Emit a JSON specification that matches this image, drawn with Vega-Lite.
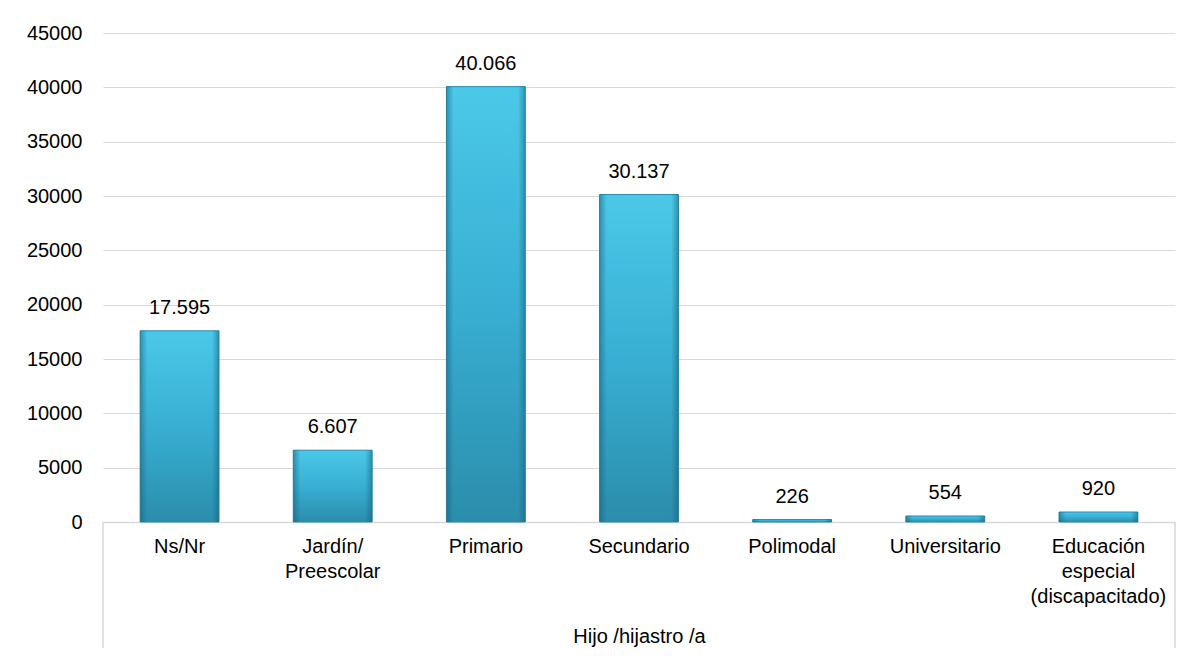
{
  "$schema": "https://vega.github.io/schema/vega-lite/v6.json",
  "width": 1072,
  "height": 489,
  "autosize": {"type": "none"},
  "padding": {"left": 103, "top": 33, "right": 26, "bottom": 137},
  "background": "white",
  "config": {
    "locale": {"number": {"decimal": ",", "thousands": ".", "grouping": [3], "currency": ["$", ""]}},
    "view": {"stroke": null},
    "font": "Liberation Sans",
    "text": {"font": "Liberation Sans"}
  },
  "layer": [
    {
      "data": {
        "values": [
          {"nivel": "Ns/Nr", "valor": 17595},
          {"nivel": "Jardín/\nPreescolar", "valor": 6607},
          {"nivel": "Primario", "valor": 40066},
          {"nivel": "Secundario", "valor": 30137},
          {"nivel": "Polimodal", "valor": 226},
          {"nivel": "Universitario", "valor": 554},
          {"nivel": "Educación\nespecial\n(discapacitado)", "valor": 920}
        ]
      },
      "encoding": {
        "x": {
          "field": "nivel",
          "type": "nominal",
          "sort": null,
          "scale": {"paddingInner": 0.485, "paddingOuter": 0.2425},
          "axis": {
            "title": "Hijo /hijastro /a",
            "titleFont": "Liberation Sans",
            "titleFontSize": 20,
            "titleFontWeight": "normal",
            "titleColor": "#000000",
            "titlePadding": 20,
            "labelExpr": "split(datum.value, '\\n')",
            "labelAngle": 0,
            "labelFont": "Liberation Sans",
            "labelFontSize": 20,
            "labelColor": "#000000",
            "labelPadding": 14,
            "labelBaseline": "top",
            "labelLineHeight": 25,
            "labelLimit": 300,
            "ticks": false,
            "domainColor": "#d9d9d9",
            "domainWidth": 1.5
          }
        },
        "y": {
          "field": "valor",
          "type": "quantitative",
          "scale": {"domain": [0, 45000], "nice": false},
          "axis": {
            "title": null,
            "values": [0, 5000, 10000, 15000, 20000, 25000, 30000, 35000, 40000, 45000],
            "format": "d",
            "domain": false,
            "ticks": false,
            "grid": true,
            "gridColor": "#d9d9d9",
            "gridWidth": 1.2,
            "labelFont": "Liberation Sans",
            "labelFontSize": 20,
            "labelColor": "#000000",
            "labelPadding": 21
          }
        }
      },
      "layer": [
        {
          "mark": {
            "type": "bar",
            "stroke": "#2a8cab",
            "strokeWidth": 1,
            "color": {
              "gradient": "linear",
              "x1": 0, "y1": 0, "x2": 0, "y2": 1,
              "stops": [
                {"offset": 0, "color": "#4bc8e8"},
                {"offset": 0.5, "color": "#38afd2"},
                {"offset": 1, "color": "#2b8dac"}
              ]
            }
          }
        },
        {
          "mark": {
            "type": "bar",
            "color": {
              "gradient": "linear",
              "x1": 0, "y1": 0, "x2": 1, "y2": 0,
              "stops": [
                {"offset": 0, "color": "rgba(20,90,115,0.5)"},
                {"offset": 0.09, "color": "rgba(20,90,115,0.0)"},
                {"offset": 0.91, "color": "rgba(20,90,115,0.0)"},
                {"offset": 1, "color": "rgba(20,90,115,0.5)"}
              ]
            }
          }
        },
        {
          "mark": {
            "type": "text",
            "baseline": "middle",
            "align": "center",
            "dy": -23,
            "fontSize": 20,
            "font": "Liberation Sans",
            "color": "#000000"
          },
          "encoding": {
            "text": {"field": "valor", "type": "quantitative", "format": ",d"}
          }
        }
      ]
    },
    {
      "data": {"values": [{"borde": 0}, {"borde": 1}]},
      "mark": {"type": "rule", "color": "#d9d9d9", "strokeWidth": 1.5},
      "encoding": {
        "x": {"field": "borde", "type": "quantitative", "scale": {"domain": [0, 1], "nice": false, "zero": false}, "axis": null},
        "y": {"datum": 0, "type": "quantitative"},
        "y2": {"datum": -11600}
      }
    }
  ],
  "resolve": {"scale": {"x": "independent"}, "axis": {"x": "independent"}}
}
